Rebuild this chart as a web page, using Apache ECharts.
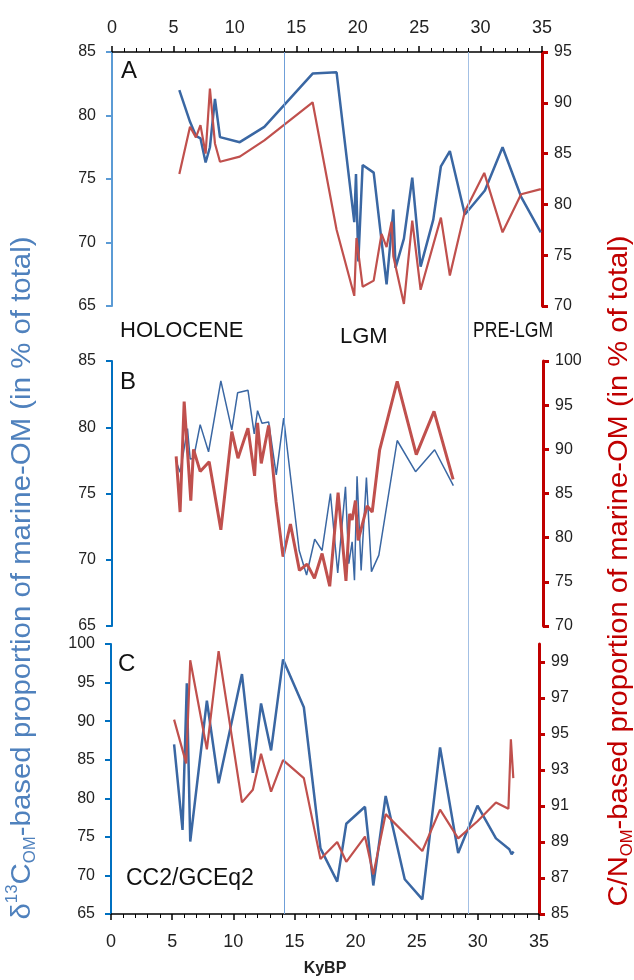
<!DOCTYPE html>
<html><head><meta charset="utf-8">
<script src="https://cdn.jsdelivr.net/npm/echarts@6/dist/echarts.min.js"></script>
<style>html,body{margin:0;padding:0;background:#fff}#c{width:634px;height:980px}</style>
</head><body><div id="c"></div>
<script>
// ---------- data ----------
const xTicks = [0,5,10,15,20,25,30,35];
const periodBounds = [14, 29];
const periodNames = ['HOLOCENE','LGM','PRE-LGM'];
const panelNames = ['A','B','C'];
const coreName = 'CC2/GCEq2';

// Panel A
const aBlueAge = [5.48,6.35,6.83,7.2,7.62,7.97,8.38,8.79,10.4,12.4,16.33,18.28,19.72,19.86,20.05,20.4,21.3,22.35,22.9,23.08,23.76,24.44,25.12,26.15,26.77,27.5,28.72,30.35,31.79,33.3,34.9];
const aBlueVal = [82.0,79.5,78.4,78.2,76.3,77.5,81.3,78.3,77.9,79.1,83.3,83.4,71.6,75.4,68.5,76.1,75.5,66.7,72.6,68.0,70.3,75.1,68.1,71.8,76.0,77.2,72.2,74.1,77.5,73.6,70.8];
const aRedAge = [5.48,6.35,6.83,7.2,7.62,7.97,8.38,8.79,10.4,12.4,16.33,18.28,19.72,19.9,20.4,21.3,21.94,22.35,22.76,22.9,23.76,24.44,25.12,26.77,27.5,28.72,30.3,31.79,33.3,34.9];
const aRedVal = [83.0,87.65,86.6,87.8,85.0,91.4,86.0,84.2,84.7,86.3,90.05,77.5,71.0,76.7,71.9,72.5,77.1,75.8,78.3,74.9,70.2,78.4,71.6,78.7,73.0,79.3,83.1,77.25,81.0,81.5];

// Panel B
const bBlueAge = [5.26,5.53,6.13,6.35,6.62,7.16,7.84,8.84,9.73,10.2,11.04,11.55,11.82,12.18,12.72,13.34,13.94,15.2,15.8,16.46,17.06,17.74,18.33,18.96,19.23,19.5,19.69,19.9,20.23,20.66,21.07,21.67,23.16,24.65,26.2,27.72];
const bBlueVal = [77.3,76.6,79.9,77.6,77.65,80.2,78.15,83.5,79.8,82.6,82.8,79.5,81.25,80.3,80.4,76.4,80.7,70.7,68.85,71.55,70.7,75.0,69.0,75.5,69.7,71.35,68.45,76.3,69.2,76.2,69.1,70.35,79.0,76.65,78.3,75.6];
const bRedAge = [5.21,5.53,5.86,6.4,6.62,7.16,7.89,8.84,9.73,10.23,11.04,11.58,11.82,12.12,12.72,13.32,13.89,14.49,15.22,15.84,16.44,17.06,17.68,18.36,19.0,19.3,19.5,19.77,19.99,20.72,21.13,21.73,23.16,24.71,26.15,27.7];
const bRedVal = [89.2,82.9,95.4,84.2,90.0,87.5,88.6,80.9,92.0,89.0,92.4,87.0,93.0,88.4,92.7,84.1,77.85,81.55,76.3,77.0,75.4,78.2,74.5,85.1,75.1,82.7,82.0,84.2,79.7,83.6,82.9,89.9,97.7,89.4,94.3,86.6];

// Panel C
const cBlueAge = [5.16,5.85,6.2,6.48,7.84,8.8,10.71,11.6,12.27,13.09,14.07,15.77,17.13,18.5,19.24,20.77,21.45,22.46,24.02,25.46,26.91,28.39,29.97,31.48,32.57,32.76,32.92];
const cBlueVal = [87.0,75.9,94.9,74.4,92.65,81.95,96.1,83.3,92.3,86.2,98.0,91.8,73.5,69.2,76.7,78.9,68.7,80.3,69.5,66.9,86.6,72.9,79.05,74.8,73.4,72.75,73.1];
const cRedAge = [5.16,6.15,6.48,7.84,8.8,10.71,11.6,12.27,13.09,14.07,15.77,17.13,18.5,19.24,20.77,21.45,22.46,25.46,26.91,28.39,29.97,31.48,32.5,32.7,32.9];
const cRedVal = [95.8,93.37,99.1,94.15,99.6,91.2,91.9,93.9,91.8,93.55,92.55,88.05,89.0,87.9,89.3,87.2,90.55,88.5,90.8,89.2,90.15,91.2,90.85,94.7,92.55];

// axis ticks
const aLeftTicks = [65,70,75,80,85];
const aRightTicks = [70,75,80,85,90,95];
const bLeftTicks = [65,70,75,80,85];
const bRightTicks = [70,75,80,85,90,95,100];
const cLeftTicks = [65,70,75,80,85,90,95,100];
const cRightTicks = [85,87,89,91,93,95,97,99];

// ---------- chart ----------
const BLUE = '#3a67a3', RED = '#c0504d';
const FONT = 'Liberation Sans';
const zip = (a, b) => a.map((v, i) => [v, b[i]]);

function xAx(grid, show, pos, extra) {
  return Object.assign({
    gridIndex: grid, type: 'value', min: 0, max: 35, interval: 5, show: show, position: pos,
    axisLine: { show: true, onZero: false, lineStyle: { color: '#000', width: 1.5 } },
    axisTick: { show: true, length: 6, customValues: xTicks, lineStyle: { color: '#000', width: 1.5 } },
    minorTick: { show: true, splitNumber: 5, length: 4, lineStyle: { color: '#000', width: 1 } },
    axisLabel: { fontSize: 18, color: '#222', fontFamily: FONT, margin: 10, customValues: xTicks },
    splitLine: { show: false }
  }, extra || {});
}
function yAx(grid, pos, min, max, ticks, color, width) {
  const step = ticks[1] - ticks[0];
  return {
    gridIndex: grid, type: 'value', position: pos, min: min, max: max, interval: step,
    axisLine: { show: true, onZero: false, lineStyle: { color: color, width: width } },
    axisTick: { show: true, length: 6, customValues: ticks, lineStyle: { color: color, width: width } },
    axisLabel: { fontSize: 16, color: '#222', fontFamily: FONT, margin: pos === 'left' ? 16 : 12, customValues: ticks },
    splitLine: { show: false }
  };
}

const chart = echarts.init(document.getElementById('c'), null, { renderer: 'canvas' });
chart.setOption({
  animation: false,
  grid: [
    { left: 112, top: 52, width: 430, height: 254 },
    { left: 112, top: 361, width: 431, height: 265 },
    { left: 111, top: 644, width: 428, height: 270 },
    { left: 112, top: 52, width: 430, height: 862 }
  ],
  xAxis: [
    xAx(0, true, 'top', { axisLabel: { fontSize: 18, color: '#222', fontFamily: FONT, margin: 15, customValues: xTicks } }),
    xAx(1, false, 'bottom'),
    xAx(2, true, 'bottom', {
      name: 'KyBP', nameLocation: 'middle', nameGap: 47,
      nameTextStyle: { fontSize: 16, fontWeight: 'bold', color: '#222', fontFamily: FONT },
      axisLabel: { fontSize: 18, color: '#222', fontFamily: FONT, margin: 19, customValues: xTicks }
    }),
    xAx(3, false, 'bottom')
  ],
  yAxis: [
    yAx(0, 'left', 65, 85, aLeftTicks, '#5b9bd5', 2),
    yAx(0, 'right', 70, 95, aRightTicks, '#c00000', 3),
    yAx(1, 'left', 65, 85, bLeftTicks, '#0070c0', 2),
    yAx(1, 'right', 70, 100, bRightTicks, '#c00000', 3),
    yAx(2, 'left', 65, 100, cLeftTicks, '#0070c0', 2),
    yAx(2, 'right', 85, 100, cRightTicks, '#c00000', 3),
    { gridIndex: 3, type: 'value', min: 0, max: 1, show: false }
  ],
  series: [
    { type: 'line', xAxisIndex: 3, yAxisIndex: 6, data: [], silent: true,
      markLine: { silent: true, symbol: ['none', 'none'], label: { show: false },
        data: [
          { xAxis: periodBounds[0], lineStyle: { color: '#6f9fd8', width: 1, type: 'solid' } },
          { xAxis: periodBounds[1], lineStyle: { color: '#a3c0e4', width: 1, type: 'solid' } }
        ] } },
    { type: 'line', xAxisIndex: 0, yAxisIndex: 0, data: zip(aBlueAge, aBlueVal), showSymbol: false, lineStyle: { color: BLUE, width: 2.5 } },
    { type: 'line', xAxisIndex: 0, yAxisIndex: 1, data: zip(aRedAge, aRedVal), showSymbol: false, lineStyle: { color: RED, width: 2.2 } },
    { type: 'line', xAxisIndex: 1, yAxisIndex: 2, data: zip(bBlueAge, bBlueVal), showSymbol: false, lineStyle: { color: BLUE, width: 1.5 } },
    { type: 'line', xAxisIndex: 1, yAxisIndex: 3, data: zip(bRedAge, bRedVal), showSymbol: false, lineStyle: { color: RED, width: 3 } },
    { type: 'line', xAxisIndex: 2, yAxisIndex: 4, data: zip(cBlueAge, cBlueVal), showSymbol: false, lineStyle: { color: BLUE, width: 2.5 } },
    { type: 'line', xAxisIndex: 2, yAxisIndex: 5, data: zip(cRedAge, cRedVal), showSymbol: false, lineStyle: { color: RED, width: 2.2 } }
  ],
  graphic: [
    { type: 'text', left: 121, top: 59, style: { text: panelNames[0], fontSize: 24, fontFamily: FONT, fill: '#111' } },
    { type: 'text', left: 120, top: 370, style: { text: panelNames[1], fontSize: 24, fontFamily: FONT, fill: '#111' } },
    { type: 'text', left: 118, top: 652, style: { text: panelNames[2], fontSize: 24, fontFamily: FONT, fill: '#111' } },
    { type: 'text', left: 120, top: 320, style: { text: periodNames[0], fontSize: 22, fontFamily: FONT, fill: '#111' } },
    { type: 'text', left: 340, top: 326, style: { text: periodNames[1], fontSize: 22, fontFamily: FONT, fill: '#111' } },
    { type: 'text', x: 473, y: 320, scaleX: 0.8, style: { text: periodNames[2], fontSize: 22, fontFamily: FONT, fill: '#111' } },
    { type: 'text', left: 126, top: 867, style: { text: coreName, fontSize: 23, fontFamily: FONT, fill: '#111' } },
    { type: 'text', x: 22, y: 578, rotation: Math.PI / 2, scaleX: 1.05,
      style: { text: '{n|δ}{sup|13}{n|C}{sub|OM}{n|-based proportion of marine-OM (in % of total)}',
        align: 'center', verticalAlign: 'middle',
        rich: {
          n: { fontSize: 28, fontFamily: FONT, fill: '#4f81bd', lineHeight: 34 },
          sup: { fontSize: 16, fontFamily: FONT, fill: '#4f81bd', lineHeight: 34, verticalAlign: 'top' },
          sub: { fontSize: 16, fontFamily: FONT, fill: '#4f81bd', lineHeight: 34, verticalAlign: 'bottom' }
        } } },
    { type: 'text', x: 619, y: 571, rotation: Math.PI / 2, scaleX: 1.04,
      style: { text: '{n|C/N}{sub|OM}{n|-based proportion of marine-OM (in % of total)}',
        align: 'center', verticalAlign: 'middle',
        rich: {
          n: { fontSize: 28, fontFamily: FONT, fill: '#c00000', lineHeight: 34 },
          sub: { fontSize: 16, fontFamily: FONT, fill: '#c00000', lineHeight: 34, verticalAlign: 'bottom' }
        } } }
  ]
});
</script></body></html>
